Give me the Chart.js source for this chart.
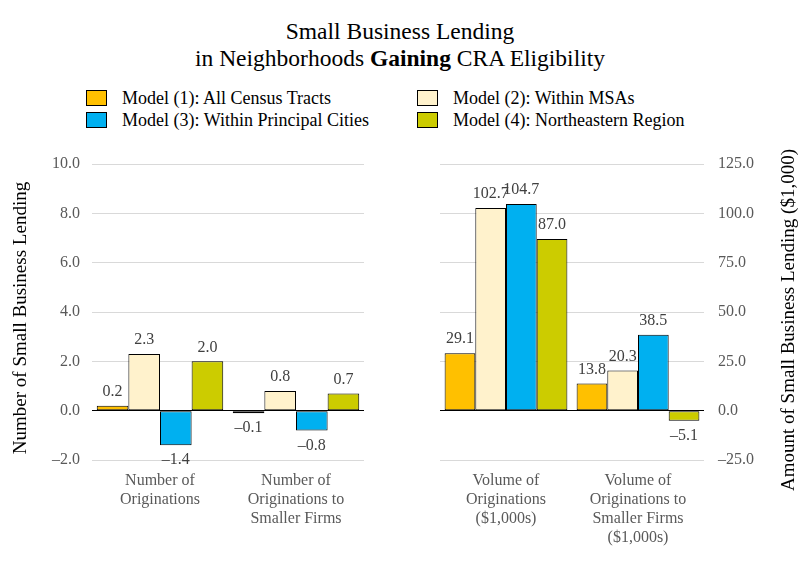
<!DOCTYPE html>
<html>
<head>
<meta charset="utf-8">
<script src="https://cdn.jsdelivr.net/npm/chart.js@4.4.1/dist/chart.umd.min.js"></script>
<style>
  body { margin: 0; background: #fff; font-family: 'Liberation Serif', 'Times New Roman', serif; }
  #page { position: relative; width: 808px; height: 564px; overflow: hidden; }
  .title { position: absolute; left: 0; width: 800px; text-align: center; font-size: 23.5px; line-height: 27px; color: #000; }
  .lg { position: absolute; font-size: 18px; line-height: 22px; height: 22px; color: #000; white-space: nowrap; }
  .sw { position: absolute; width: 19px; height: 14px; border: 1px solid #000; }
  canvas { position: absolute; }
</style>
</head>
<body>
<div id="page">
  <div class="title" style="top:18px">Small Business Lending</div>
  <div class="title" style="top:45px">in Neighborhoods <b>Gaining</b> CRA Eligibility</div>
  <div id="legend"></div>
  <canvas id="countChart" width="400" height="424" style="left:0;top:140px"></canvas>
  <canvas id="volumeChart" width="408" height="424" style="left:400px;top:140px"></canvas>
</div>
<script>
// models and colours
const modelNames = [
    'Model (1): All Census Tracts',
    'Model (2): Within MSAs',
    'Model (3): Within Principal Cities',
    'Model (4): Northeastern Region'
];
const modelColors = ['#FFC000', '#FFF2CC', '#00B0F0', '#CCCC00'];

// left panel: number of originations
const countCategories = [['Number of', 'Originations'], ['Number of', 'Originations to', 'Smaller Firms']];
const model1Count = [0.2, -0.1];
const model2Count = [2.3, 0.8];
const model3Count = [-1.4, -0.8];
const model4Count = [2.0, 0.7];
const countTicks = [-2, 0, 2, 4, 6, 8, 10];

// right panel: volume of originations ($1,000s)
const volumeCategories = [['Volume of', 'Originations', '($1,000s)'], ['Volume of', 'Originations to', 'Smaller Firms', '($1,000s)']];
const model1Volume = [29.1, 13.8];
const model2Volume = [102.7, 20.3];
const model3Volume = [104.7, 38.5];
const model4Volume = [87.0, -5.1];
const volumeTicks = [-25, 0, 25, 50, 75, 100, 125];

const serif = "'Liberation Serif', 'Times New Roman', serif";

function fmt(v) {
    const s = Math.abs(v).toFixed(1);
    return v < 0 ? '\u2013' + s : s;
}

// html legend, two columns
const legendPos = [[86, 87], [417, 87], [86, 109], [417, 109]];
const legendEl = document.getElementById('legend');
modelNames.forEach((name, i) => {
    const [x, y] = legendPos[i];
    const sw = document.createElement('div');
    sw.className = 'sw';
    sw.style.left = x + 'px';
    sw.style.top = (y + 3) + 'px';
    sw.style.background = modelColors[i];
    legendEl.appendChild(sw);
    const t = document.createElement('div');
    t.className = 'lg';
    t.style.left = (x + 36) + 'px';
    t.style.top = y + 'px';
    t.textContent = name;
    legendEl.appendChild(t);
});

// value labels above / below bars
const barLabels = {
    id: 'barLabels',
    afterDatasetsDraw(chart) {
        const ctx = chart.ctx;
        ctx.save();
        ctx.font = '16px ' + serif;
        ctx.fillStyle = '#404040';
        ctx.textAlign = 'center';
        ctx.textBaseline = 'middle';
        chart.data.datasets.forEach((ds, di) => {
            chart.getDatasetMeta(di).data.forEach((bar, i) => {
                const v = ds.data[i];
                const y = v >= 0 ? bar.y - 14 : bar.y + 15;
                ctx.fillText(fmt(v), bar.x, y);
            });
        });
        ctx.restore();
    }
};

// rotated axis title, reading bottom to top
const axisTitle = {
    id: 'axisTitle',
    afterDraw(chart, args, opts) {
        const ctx = chart.ctx;
        ctx.save();
        ctx.translate(opts.x, opts.y);
        ctx.rotate(-Math.PI / 2);
        ctx.font = '19px ' + serif;
        ctx.fillStyle = '#000';
        ctx.textAlign = 'center';
        ctx.textBaseline = 'middle';
        ctx.fillText(opts.text, 0, 0);
        ctx.restore();
    }
};

function makeDatasets(series) {
    return series.map((data, i) => ({
        label: modelNames[i],
        data: data,
        backgroundColor: modelColors[i],
        borderColor: '#000',
        borderWidth: 1,
        borderSkipped: false,
        categoryPercentage: 0.93,
        barPercentage: 1
    }));
}

function makeChart(id, labels, series, tickVals, yPos, yWidth, padding, title) {
    const step = tickVals[1] - tickVals[0];
    return new Chart(document.getElementById(id), {
        type: 'bar',
        data: { labels: labels, datasets: makeDatasets(series) },
        options: {
            responsive: false,
            animation: false,
            layout: { padding: padding },
            plugins: {
                legend: { display: false },
                tooltip: { enabled: false },
                axisTitle: title
            },
            scales: {
                x: {
                    grid: { display: false },
                    border: { display: false },
                    ticks: {
                        color: '#595959',
                        font: { family: serif, size: 16 },
                        padding: 3,
                        maxRotation: 0,
                        autoSkip: false
                    },
                    afterFit: (s) => { s.height = 104; }
                },
                y: {
                    position: yPos,
                    min: tickVals[0],
                    max: tickVals[tickVals.length - 1],
                    grid: {
                        drawTicks: false,
                        color: (c) => c.tick && c.tick.value === 0 ? '#000' : '#d9d9d9',
                        lineWidth: 1
                    },
                    border: { display: false },
                    ticks: {
                        stepSize: step,
                        padding: yPos === 'left' ? 12 : 14,
                        color: '#595959',
                        font: { family: serif, size: 16 },
                        callback: (v) => fmt(v)
                    },
                    afterFit: (s) => { s.width = yWidth; }
                }
            }
        },
        plugins: [barLabels, axisTitle]
    });
}

makeChart('countChart', countCategories,
    [model1Count, model2Count, model3Count, model4Count],
    countTicks, 'left', 92,
    { left: 0, top: 24, right: 36, bottom: 0 },
    { text: 'Number of Small Business Lending', x: 21, y: 178 });

makeChart('volumeChart', volumeCategories,
    [model1Volume, model2Volume, model3Volume, model4Volume],
    volumeTicks, 'right', 104,
    { left: 40, top: 24, right: 0, bottom: 0 },
    { text: 'Amount of Small Business Lending ($1,000)', x: 389, y: 180 });
</script>
</body>
</html>
